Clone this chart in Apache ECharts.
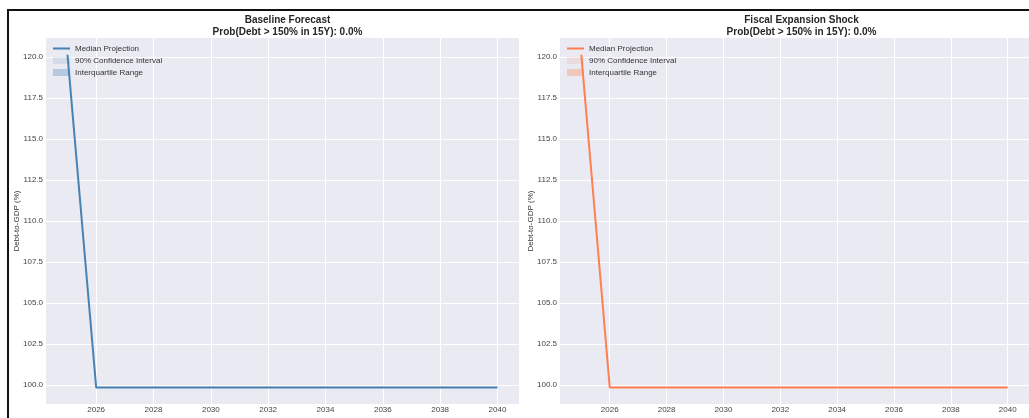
<!DOCTYPE html>
<html>
<head>
<meta charset="utf-8">
<script src="https://cdn.jsdelivr.net/npm/echarts@6/dist/echarts.min.js"></script>
<style>
html,body{margin:0;padding:0;background:#fff;}
#main{width:1029px;height:418px;}
</style>
</head>
<body>
<div id="main"></div>
<script>
// ---- data ----
const years = [2025,2026,2027,2028,2029,2030,2031,2032,2033,2034,2035,2036,2037,2038,2039,2040];
const baselineMedian = [120.14,99.85,99.85,99.85,99.85,99.85,99.85,99.85,99.85,99.85,99.85,99.85,99.85,99.85,99.85,99.85];
const shockMedian    = [120.14,99.85,99.85,99.85,99.85,99.85,99.85,99.85,99.85,99.85,99.85,99.85,99.85,99.85,99.85,99.85];
const xTicks = [2026,2028,2030,2032,2034,2036,2038,2040];
const yTicks = [100.0,102.5,105.0,107.5,110.0,112.5,115.0,117.5,120.0];
const panelTitles = ['Baseline Forecast','Fiscal Expansion Shock'];
const probTexts = ['Prob(Debt > 150% in 15Y): 0.0%','Prob(Debt > 150% in 15Y): 0.0%'];
const legendNames = ['Median Projection','90% Confidence Interval','Interquartile Range'];
const yLabel = 'Debt-to-GDP (%)';

const colors = [
  {line:'#4682B4', ci:'rgba(70,130,180,0.13)', iqr:'rgba(70,130,180,0.32)'},
  {line:'#FF7F50', ci:'rgba(255,127,80,0.13)', iqr:'rgba(255,127,80,0.32)'}
];
const medians = [baselineMedian, shockMedian];

const FONT = '"Liberation Sans", Arial, sans-serif';
const grids = [
  {left:46, top:38, width:473, height:366},
  {left:560, top:38, width:473, height:366}
];

const chart = echarts.init(document.getElementById('main'), null, {renderer:'canvas'});

const option = {
  animation:false,
  backgroundColor:'#fff',
  textStyle:{fontFamily:FONT},
  title: grids.map((g,i)=>({
    text: panelTitles[i] + '\n' + probTexts[i],
    left: g.left + g.width/2,
    textAlign:'center',
    top: 9,
    textStyle:{fontFamily:FONT, fontSize:10, fontWeight:'bold', color:'#262626', lineHeight:12}
  })),
  grid: grids.map(g=>({left:g.left, top:g.top, width:g.width, height:g.height, show:true, backgroundColor:'#EAEAF2', borderWidth:0, containLabel:false})),
  legend: grids.map((g,i)=>({
    orient:'vertical',
    left: g.left + 7,
    top: 44.5,
    itemWidth:17,
    itemHeight:7,
    itemGap:4,
    padding:0,
    symbolKeepAspect:true,
    textStyle:{fontFamily:FONT, fontSize:8, color:'#333', lineHeight:8},
    data:[]
  })),
  xAxis: grids.map((g,i)=>({
    type:'value', gridIndex:i, min:2024.25, max:2040.75,
    axisLine:{show:false}, axisTick:{show:false, customValues:xTicks},
    axisLabel:{customValues:xTicks, fontFamily:FONT, fontSize:8, color:'#444', margin:2, formatter:v=>String(v)},
    splitLine:{show:true, lineStyle:{color:'#fff', width:1}}
  })),
  yAxis: grids.map((g,i)=>({
    type:'value', gridIndex:i, min:98.84, max:121.16,
    name: yLabel, nameLocation:'middle', nameRotate:90, nameGap:25, nameMoveOverlap:false,
    nameTextStyle:{fontFamily:FONT, fontSize:8, color:'#333'},
    axisLine:{show:false}, axisTick:{show:false, customValues:yTicks},
    axisLabel:{customValues:yTicks, fontFamily:FONT, fontSize:8, color:'#444', margin:3, formatter:v=>v.toFixed(1)},
    splitLine:{show:true, lineStyle:{color:'#fff', width:1}}
  })),
  series: [],
  graphic: [
    {type:'rect', z:100, silent:true, shape:{x:8, y:10, width:1100, height:500}, style:{fill:'none', stroke:'#111', lineWidth:2}}
  ]
};

// Series per panel; legend names distinct per panel via invisible zero-width-space suffix
grids.forEach((g,i)=>{
  const suffix = i===0 ? '' : '\u200B';
  option.series.push({
    type:'line', name:legendNames[0]+suffix, xAxisIndex:i, yAxisIndex:i,
    data: years.map((y,k)=>[y, medians[i][k]]),
    symbol:'none', lineStyle:{color:colors[i].line, width:2}, itemStyle:{color:colors[i].line}, z:5
  });
  option.series.push({
    type:'bar', name:legendNames[1]+suffix, xAxisIndex:i, yAxisIndex:i, data:[],
    itemStyle:{color:colors[i].ci}
  });
  option.series.push({
    type:'bar', name:legendNames[2]+suffix, xAxisIndex:i, yAxisIndex:i, data:[],
    itemStyle:{color:colors[i].iqr}
  });
  option.legend[i].data = [
    {name:legendNames[0]+suffix, icon:'path://M0,0H34V4H0Z', itemStyle:{color:colors[i].line}},
    {name:legendNames[1]+suffix, icon:'rect'},
    {name:legendNames[2]+suffix, icon:'rect'}
  ];
  option.legend[i].formatter = name => name.replace('\u200B','');
});

chart.setOption(option);
</script>
</body>
</html>
